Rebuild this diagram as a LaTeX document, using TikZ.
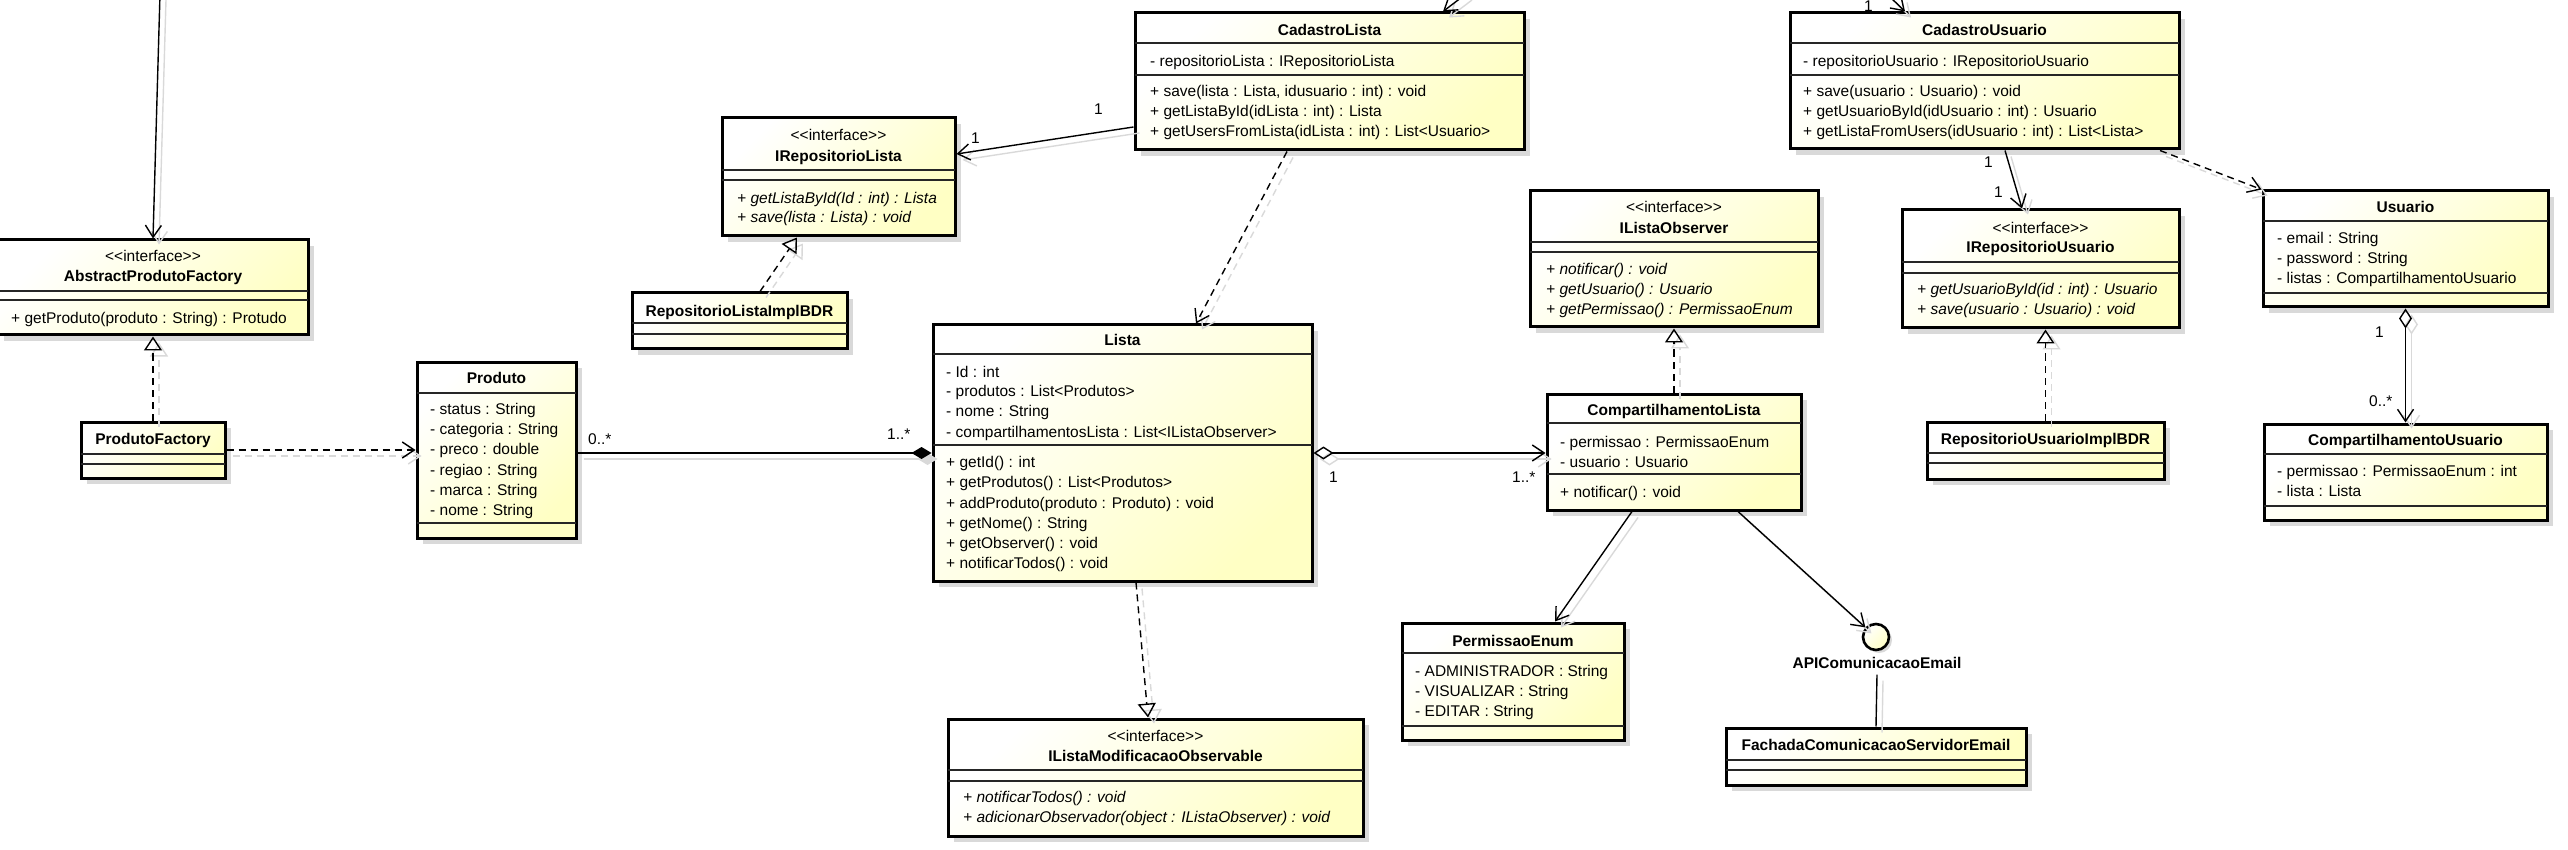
\documentclass[tikz,border=0pt]{standalone}
\usepackage{fontspec}
\setmainfont{Liberation Sans}
\usetikzlibrary{arrows.meta,fit,shadows}
\definecolor{ycol}{RGB}{255,255,196}
\newcommand\fs{\fontsize{15.5pt}{20pt}\selectfont}
\newcommand\ifc{<\kern0pt<interface>\kern0pt>}
\newcommand\cnx[2]{\draw[#1,shd] #2; \draw[#1] #2;}
\begin{document}
\begin{tikzpicture}[x=1pt,y=-1pt,
 cbox/.style={draw=black, line width=3pt, inner sep=0pt, top color=white, bottom color=ycol, shading angle=45,
   drop shadow={shadow xshift=6pt, shadow yshift=-6pt, fill=black!15, opacity=1}},
 sepl/.style={line width=1.2pt, black!85},
 tl/.style={anchor=west, inner sep=0pt, text height=11pt, text depth=0pt, font=\fs},
 tc/.style={tl, anchor=center},
 tb/.style={tc, font=\fs\bfseries},
 ti/.style={tl, font=\fs\itshape},
 conn/.style={line width=1.4pt, draw=black},
 shd/.style={draw=black!15, transform canvas={shift={(6pt,-6pt)}}},
 assoc/.style={conn, -{Straight Barb[length=12pt, width=16pt]}},
 dep/.style={conn, dash pattern=on 7pt off 5pt, -{Straight Barb[length=12pt, width=16pt]}},
 real/.style={conn, dash pattern=on 7pt off 5pt, -{Triangle[open, length=14pt, width=18pt]}},
 comp/.style={conn, -{Diamond[length=20pt, width=12pt]}},
 aggr/.style={conn, {Diamond[open, length=20pt, width=13pt]}-{Straight Barb[length=12pt, width=16pt]}}
]
\useasboundingbox (0,0) rectangle (2568,850);

% AbstractProdutoFactory
\node[cbox, fit={(-2,240)(308,335)}] (apf) {};
\node[tc] (apf-s) at (153,256) {\ifc};
\node[tb] (apf-n) at (153,276) {AbstractProdutoFactory};
\draw[sepl] (-2,291) -- (308,291);
\draw[sepl] (-2,300) -- (308,300);
\node[tl] (apf-m1) at (11,318) {+ getProduto(produto : String) : Protudo};

% ProdutoFactory
\node[cbox, fit={(81,422)(225,478)}] (pf) {};
\node[tb] (pf-n) at (153,439) {ProdutoFactory};
\draw[sepl] (81,454) -- (225,454);
\draw[sepl] (81,464) -- (225,464);

% Produto
\node[cbox, fit={(417,362)(576,538)}] (prod) {};
\node[tb] (prod-n) at (496.5,378) {Produto};
\draw[sepl] (417,393) -- (576,393);
\node[tl] (prod-a1) at (430,409) {- status : String};
\node[tl] (prod-a2) at (430,429) {- categoria : String};
\node[tl] (prod-a3) at (430,449) {- preco : double};
\node[tl] (prod-a4) at (430,470) {- regiao : String};
\node[tl] (prod-a5) at (430,490) {- marca : String};
\node[tl] (prod-a6) at (430,510) {- nome : String};
\draw[sepl] (417,523) -- (576,523);

% IRepositorioLista
\node[cbox, fit={(722,118)(955,236)}] (irl) {};
\node[tc] (irl-s) at (838.5,135) {\ifc};
\node[tb] (irl-n) at (838.5,156) {IRepositorioLista};
\draw[sepl] (722,170) -- (955,170);
\draw[sepl] (722,180) -- (955,180);
\node[ti] (irl-m1) at (737,198) {+ getListaById(Id : int) : Lista};
\node[ti] (irl-m2) at (737,217) {+ save(lista : Lista) : void};

% RepositorioListaImplBDR
\node[cbox, fit={(632,293)(847,349)}] (rli) {};
\node[tb] (rli-n) at (739.5,311) {RepositorioListaImplBDR};
\draw[sepl] (632,323) -- (847,323);
\draw[sepl] (632,334) -- (847,334);

% CadastroLista
\node[cbox, fit={(1135,13)(1524,150)}] (cl) {};
\node[tb] (cl-n) at (1329.5,30.5) {CadastroLista};
\draw[sepl] (1135,43) -- (1524,43);
\node[tl] (cl-a1) at (1150,61.5) {- repositorioLista : IRepositorioLista};
\draw[sepl] (1135,75) -- (1524,75);
\node[tl] (cl-m1) at (1150,91.5) {+ save(lista : Lista, idusuario : int) : void};
\node[tl] (cl-m2) at (1150,111.5) {+ getListaById(idLista : int) : Lista};
\node[tl] (cl-m3) at (1150,131.5) {+ getUsersFromLista(idLista : int) : List<Usuario>};

% Lista
\node[cbox, fit={(933,325)(1312,581)}] (li) {};
\node[tb] (li-n) at (1122.5,340) {Lista};
\draw[sepl] (933,354) -- (1312,354);
\node[tl] (li-a1) at (946,372) {- Id : int};
\node[tl] (li-a2) at (946,391) {- produtos : List<Produtos>};
\node[tl] (li-a3) at (946,411) {- nome : String};
\node[tl] (li-a4) at (946,432) {- compartilhamentosLista : List<IListaObserver>};
\draw[sepl] (933,445) -- (1312,445);
\node[tl] (li-m1) at (946,462) {+ getId() : int};
\node[tl] (li-m2) at (946,482) {+ getProdutos() : List<Produtos>};
\node[tl] (li-m3) at (946,502.5) {+ addProduto(produto : Produto) : void};
\node[tl] (li-m4) at (946,522.5) {+ getNome() : String};
\node[tl] (li-m5) at (946,543) {+ getObserver() : void};
\node[tl] (li-m6) at (946,563) {+ notificarTodos() : void};

% IListaModificacaoObservable
\node[cbox, fit={(948,719)(1363,836)}] (ilm) {};
\node[tc] (ilm-s) at (1155.5,736) {\ifc};
\node[tb] (ilm-n) at (1155.5,756) {IListaModificacaoObservable};
\draw[sepl] (948,770) -- (1363,770);
\draw[sepl] (948,781) -- (1363,781);
\node[ti] (ilm-m1) at (963,797) {+ notificarTodos() : void};
\node[ti] (ilm-m2) at (963,817) {+ adicionarObservador(object : IListaObserver) : void};

% IListaObserver
\node[cbox, fit={(1530,191)(1818,327)}] (ilo) {};
\node[tc] (ilo-s) at (1674,207) {\ifc};
\node[tb] (ilo-n) at (1674,228) {IListaObserver};
\draw[sepl] (1530,242) -- (1818,242);
\draw[sepl] (1530,252) -- (1818,252);
\node[ti] (ilo-m1) at (1546,269) {+ notificar() : void};
\node[ti] (ilo-m2) at (1546,289) {+ getUsuario() : Usuario};
\node[ti] (ilo-m3) at (1546,309) {+ getPermissao() : PermissaoEnum};

% CompartilhamentoLista
\node[cbox, fit={(1547,394)(1801,510)}] (cpl) {};
\node[tb] (cpl-n) at (1674,410) {CompartilhamentoLista};
\draw[sepl] (1547,423) -- (1801,423);
\node[tl] (cpl-a1) at (1560,442) {- permissao : PermissaoEnum};
\node[tl] (cpl-a2) at (1560,462) {- usuario : Usuario};
\draw[sepl] (1547,474) -- (1801,474);
\node[tl] (cpl-m1) at (1560,492) {+ notificar() : void};

% PermissaoEnum
\node[cbox, fit={(1402,623)(1624,740)}] (pe) {};
\node[tb] (pe-n) at (1513,641) {PermissaoEnum};
\draw[sepl] (1402,653) -- (1624,653);
\node[tl] (pe-a1) at (1415,671) {- ADMINISTRADOR : String};
\node[tl] (pe-a2) at (1415,691) {- VISUALIZAR : String};
\node[tl] (pe-a3) at (1415,711) {- EDITAR : String};
\draw[sepl] (1402,726) -- (1624,726);

% APIComunicacaoEmail
\node[circle, draw=black, line width=2.6pt, minimum size=26pt, inner sep=0pt, top color=white, bottom color=ycol, shading angle=45,
   drop shadow={shadow xshift=3pt, shadow yshift=-3pt, fill=black!15, opacity=1}] (api) at (1876,637) {};
\node[tb] (apil) at (1877,663) {APIComunicacaoEmail};

% FachadaComunicacaoServidorEmail
\node[cbox, fit={(1726,728)(2026,785)}] (fa) {};
\node[tb] (fa-n) at (1876,745) {FachadaComunicacaoServidorEmail};
\draw[sepl] (1726,760) -- (2026,760);
\draw[sepl] (1726,770) -- (2026,770);

% CadastroUsuario
\node[cbox, fit={(1790,13)(2179,149)}] (cu) {};
\node[tb] (cu-n) at (1984.5,30.5) {CadastroUsuario};
\draw[sepl] (1790,43) -- (2179,43);
\node[tl] (cu-a1) at (1803,61.5) {- repositorioUsuario : IRepositorioUsuario};
\draw[sepl] (1790,75) -- (2179,75);
\node[tl] (cu-m1) at (1803,91.5) {+ save(usuario : Usuario) : void};
\node[tl] (cu-m2) at (1803,111.5) {+ getUsuarioById(idUsuario : int) : Usuario};
\node[tl] (cu-m3) at (1803,131.5) {+ getListaFromUsers(idUsuario : int) : List<Lista>};

% IRepositorioUsuario
\node[cbox, fit={(1902,210)(2179,328)}] (iru) {};
\node[tc] (iru-s) at (2040.5,228) {\ifc};
\node[tb] (iru-n) at (2040.5,247) {IRepositorioUsuario};
\draw[sepl] (1902,262) -- (2179,262);
\draw[sepl] (1902,273) -- (2179,273);
\node[ti] (iru-m1) at (1917,289) {+ getUsuarioById(id : int) : Usuario};
\node[ti] (iru-m2) at (1917,309) {+ save(usuario : Usuario) : void};

% RepositorioUsuarioImplBDR
\node[cbox, fit={(1927,422)(2164,479)}] (rui) {};
\node[tb] (rui-n) at (2045.5,439) {RepositorioUsuarioImplBDR};
\draw[sepl] (1927,453) -- (2164,453);
\draw[sepl] (1927,463) -- (2164,463);

% Usuario
\node[cbox, fit={(2263,191)(2548,307)}] (us) {};
\node[tb] (us-n) at (2405.5,207) {Usuario};
\draw[sepl] (2263,221) -- (2548,221);
\node[tl] (us-a1) at (2277,238) {- email : String};
\node[tl] (us-a2) at (2277,258) {- password : String};
\node[tl] (us-a3) at (2277,278) {- listas : CompartilhamentoUsuario};
\draw[sepl] (2263,293) -- (2548,293);

% CompartilhamentoUsuario
\node[cbox, fit={(2264,424)(2547,520)}] (cu2) {};
\node[tb] (cu2-n) at (2405.5,440) {CompartilhamentoUsuario};
\draw[sepl] (2264,454) -- (2547,454);
\node[tl] (cu2-a1) at (2277,471) {- permissao : PermissaoEnum : int};
\node[tl] (cu2-a2) at (2277,491) {- lista : Lista};
\draw[sepl] (2264,506) -- (2547,506);

% ---------- connectors ----------
\coordinate (src1) at (160,-6);
\coordinate (src2) at (1466,-6);
\coordinate (src3) at (1887,-6);

\cnx{assoc}{(src1) -- (apf.north)}
\cnx{real}{(pf.north) -- (apf.south)}
\cnx{dep}{(pf.east) -- (prod.west)}
\cnx{comp}{(prod.east |- li.west) -- (li.west)}
\cnx{assoc}{([yshift=-45.5pt]cl.west) -- ([yshift=23pt]irl.east)}
\cnx{real}{([xshift=20.5pt]rli.north) -- ([xshift=-41.5pt]irl.south)}
\cnx{dep}{([xshift=-42.5pt]cl.south) -- ([xshift=73.5pt]li.north)}
\cnx{real}{([xshift=13.5pt]li.south) -- ([xshift=-7.5pt]ilm.north)}
\cnx{aggr}{(li.east) -- (li.east -| cpl.west)}
\cnx{real}{(cpl.north) -- (ilo.south)}
\cnx{assoc}{([xshift=-42pt]cpl.south) -- ([xshift=42pt]pe.north)}
\cnx{assoc}{([xshift=64pt]cpl.south) -- (api)}
\cnx{conn}{([yshift=-6pt]apil.south) -- (fa.north)}
\cnx{assoc}{([xshift=20.5pt]cu.south) -- ([xshift=-18.5pt]iru.north)}
\cnx{real}{(rui.north) -- (rui.north |- iru.south)}
\cnx{dep}{([xshift=175.5pt]cu.south) -- (us.north west)}
\cnx{aggr}{(us.south) -- (cu2.north)}
\cnx{assoc}{(src2) -- ([xshift=113.5pt]cl.north)}
\cnx{assoc}{(src3) -- ([xshift=-79.5pt]cu.north)}

% multiplicities
\node[tl] (m1) at (588,439) {0..*};
\node[tl] (m2) at (887,434) {1..*};
\node[tl] (m3) at (1094,109) {1};
\node[tl] (m4) at (971,138) {1};
\node[tl] (m5) at (1329,477) {1};
\node[tl] (m6) at (1512,477) {1..*};
\node[tl] (m7) at (1984,162) {1};
\node[tl] (m8) at (1994,192) {1};
\node[tl] (m9) at (2375,332) {1};
\node[tl] (m10) at (2369,401) {0..*};
\node[tl] (m11) at (1864,6.5) {1};
\end{tikzpicture}
\end{document}
